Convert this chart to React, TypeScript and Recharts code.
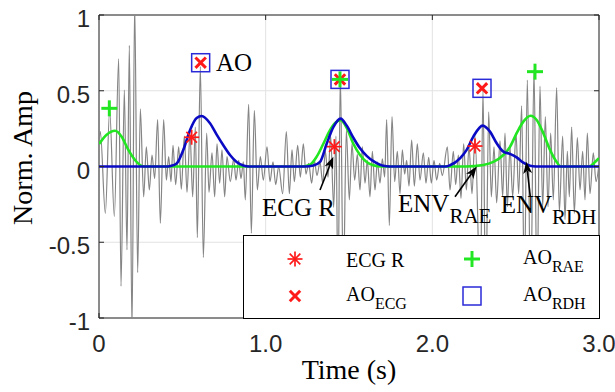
import React from 'react';
import {
  ComposedChart,
  Line,
  Scatter,
  XAxis,
  YAxis,
  CartesianGrid,
  ReferenceArea,
  ReferenceLine,
  ReferenceDot,
} from 'recharts';

// ---------- axis ticks ----------
const X_TICKS = [0, 1, 2, 3];
const X_TICK_LABELS = ['0', '1.0', '2.0', '3.0'];
const Y_TICKS = [1, 0.5, 0, -0.5, -1];
const Y_TICK_LABELS = ['1', '0.5', '0', '-0.5', '-1'];
const X_TITLE = 'Time (s)';
const Y_TITLE = 'Norm. Amp';

// ---------- grey raw signal: [time (s), normalized amplitude] ----------
const SIGNAL: [number, number][] = [
  [0.0, 0.15], [0.008, 0.23], [0.038, -0.31], [0.064, 0.37], [0.092, -0.33], [0.118, 0.71],
  [0.132, -0.79], [0.152, 0.505], [0.168, -0.55], [0.182, 0.8], [0.198, -1.08], [0.214, 1.08],
  [0.232, -0.7], [0.248, 0.38], [0.268, -0.2], [0.284, 0.13], [0.302, -0.155], [0.318, 0.076],
  [0.334, -0.08], [0.352, 0.31], [0.368, -0.375], [0.388, 0.31], [0.404, -0.09], [0.418, 0.065],
  [0.432, -0.1], [0.444, 0.14], [0.46, -0.12], [0.478, 0.13], [0.494, -0.15], [0.512, 0.2],
  [0.528, -0.17], [0.546, 0.22], [0.562, -0.2], [0.578, 0.26], [0.59, -0.47], [0.608, 0.66],
  [0.626, -0.6], [0.646, 0.22], [0.66, -0.17], [0.678, 0.09], [0.694, -0.2], [0.708, 0.15],
  [0.724, -0.11], [0.738, 0.11], [0.754, -0.2], [0.768, 0.065], [0.788, -0.1], [0.808, 0.05],
  [0.822, -0.09], [0.838, 0.04], [0.852, -0.08], [0.866, 0.03], [0.878, -0.22], [0.898, 0.41],
  [0.914, -0.44], [0.932, 0.37], [0.95, -0.155], [0.968, 0.065], [0.986, -0.09], [1.008, 0.13],
  [1.026, -0.1], [1.044, 0.03], [1.06, -0.12], [1.078, 0.0], [1.102, -0.18], [1.124, 0.23],
  [1.142, -0.18], [1.158, 0.11], [1.172, -0.1], [1.192, 0.14], [1.208, -0.07], [1.226, 0.15],
  [1.242, -0.05], [1.258, 0.02], [1.276, -0.11], [1.292, 0.04], [1.308, -0.06], [1.326, 0.03],
  [1.342, -0.11], [1.358, 0.1], [1.374, -0.07], [1.39, 0.2], [1.408, -0.27], [1.422, 0.2],
  [1.434, -0.85], [1.448, 0.6], [1.466, -0.8], [1.484, 0.24], [1.502, -0.22], [1.518, 0.15],
  [1.534, -0.09], [1.55, 0.08], [1.566, -0.155], [1.58, 0.13], [1.596, -0.11], [1.61, 0.04],
  [1.626, -0.2], [1.64, 0.1], [1.656, -0.155], [1.67, 0.03], [1.686, -0.11], [1.7, 0.05],
  [1.714, -0.07], [1.726, 0.31], [1.742, -0.39], [1.758, 0.33], [1.774, -0.1], [1.79, 0.1],
  [1.806, -0.18], [1.82, 0.11], [1.834, -0.05], [1.846, 0.04], [1.86, -0.13], [1.876, 0.175],
  [1.892, -0.13], [1.91, 0.15], [1.926, -0.09], [1.946, 0.09], [1.962, -0.11], [1.978, 0.06],
  [1.994, -0.11], [2.01, 0.04], [2.026, -0.09], [2.044, 0.02], [2.06, -0.06], [2.09, 0.13],
  [2.106, -0.155], [2.126, 0.1], [2.14, -0.12], [2.156, 0.075], [2.172, -0.21], [2.188, 0.15],
  [2.204, -0.155], [2.22, 0.13], [2.238, -0.18], [2.256, 0.2], [2.288, -0.85], [2.304, 0.505],
  [2.32, -0.95], [2.338, 0.36], [2.354, -0.2], [2.37, 0.13], [2.386, -0.24], [2.406, 0.17],
  [2.422, -0.2], [2.436, 0.22], [2.45, -0.265], [2.466, 0.13], [2.482, -0.2], [2.502, 0.22],
  [2.518, -0.18], [2.536, 0.4], [2.552, -0.8], [2.57, 0.57], [2.59, -0.9], [2.61, 0.64],
  [2.628, -0.85], [2.646, 0.53], [2.662, -0.27], [2.678, 0.33], [2.694, -0.265], [2.71, 0.22],
  [2.726, -0.22], [2.746, 0.52], [2.762, -0.3], [2.782, 0.2], [2.796, -0.35], [2.81, 0.1],
  [2.822, -0.2], [2.836, 0.26], [2.852, -0.31], [2.87, 0.19], [2.886, -0.155], [2.902, 0.1],
  [2.916, -0.22], [2.93, 0.22], [2.946, -0.18], [2.966, 0.09], [2.982, -0.1], [3.0, 0.02],
];

// ---------- envelopes ----------
const ENV_RDH: [number, number][] = [
  [0, 0], [0.4, 0], [0.43, 0.004], [0.466, 0.02], [0.506, 0.11], [0.546, 0.24], [0.586, 0.32],
  [0.616, 0.333], [0.666, 0.285], [0.706, 0.21], [0.746, 0.14], [0.786, 0.076], [0.826, 0.03],
  [0.866, 0.006], [0.9, 0], [1.24, 0], [1.286, 0.006], [1.326, 0.03], [1.366, 0.15], [1.406, 0.26],
  [1.45, 0.316], [1.486, 0.27], [1.526, 0.19], [1.566, 0.12], [1.606, 0.07], [1.646, 0.035],
  [1.686, 0.012], [1.726, 0.002], [1.76, 0], [2.08, 0], [2.106, 0.008], [2.166, 0.054],
  [2.206, 0.11], [2.246, 0.197], [2.302, 0.27], [2.346, 0.23], [2.386, 0.153], [2.426, 0.098],
  [2.466, 0.083], [2.506, 0.06], [2.546, 0.025], [2.586, 0.005], [2.62, 0], [3.0, 0],
];
const ENV_RAE: [number, number][] = [
  [0, 0.148], [0.046, 0.21], [0.096, 0.236], [0.136, 0.197], [0.176, 0.11], [0.216, 0.043],
  [0.246, 0.01], [0.27, 0], [1.22, 0], [1.266, 0.012], [1.306, 0.065], [1.346, 0.15],
  [1.386, 0.24], [1.42, 0.29], [1.45, 0.305], [1.486, 0.255], [1.526, 0.15], [1.566, 0.076],
  [1.606, 0.03], [1.646, 0.008], [1.69, 0], [2.2, 0], [2.306, 0.01], [2.366, 0.03],
  [2.426, 0.076], [2.466, 0.13], [2.506, 0.22], [2.546, 0.296], [2.59, 0.335], [2.626, 0.307],
  [2.666, 0.22], [2.706, 0.11], [2.746, 0.03], [2.77, 0], [2.94, 0], [2.986, 0.04], [3.0, 0.055],
];

// ---------- markers ----------
const ECG_R: [number, number][] = [[0.556, 0.193], [1.412, 0.131], [2.256, 0.135]];
const AO_ECG: [number, number][] = [[0.61, 0.685], [1.446, 0.575], [2.298, 0.516]];
const AO_RAE: [number, number][] = [[0.062, 0.384], [1.446, 0.575], [2.616, 0.626]];
const AO_RDH: [number, number][] = [[0.61, 0.685], [1.446, 0.575], [2.298, 0.516]];

const toRows = (a: [number, number][]) => a.map(([t, v]) => ({ t, v }));

// ---------- styles ----------
const W = 615;
const H = 392;
const PLOT_W = 500;
const PLOT_H = 303;
const SERIF = '"Liberation Serif", "Times New Roman", serif';
const SANS = '"Liberation Sans", Arial, sans-serif';
const RED = '#ff1a1a';
const GREEN = '#22e622';
const BLUE = '#0a0ac4';
const SQ_BLUE = '#2a2ad8';
const AXIS = '#262626';

const starShape = (p: any) => {
  const { cx, cy } = p;
  const r = 7.5;
  const d = 5.3;
  return (
    <g stroke={RED} strokeWidth={1.7}>
      <line x1={cx - r} y1={cy} x2={cx + r} y2={cy} />
      <line x1={cx} y1={cy - r} x2={cx} y2={cy + r} />
      <line x1={cx - d} y1={cy - d} x2={cx + d} y2={cy + d} />
      <line x1={cx - d} y1={cy + d} x2={cx + d} y2={cy - d} />
    </g>
  );
};
const crossShape = (p: any) => {
  const { cx, cy } = p;
  const d = 5.2;
  return (
    <g stroke={RED} strokeWidth={3}>
      <line x1={cx - d} y1={cy - d} x2={cx + d} y2={cy + d} />
      <line x1={cx - d} y1={cy + d} x2={cx + d} y2={cy - d} />
    </g>
  );
};
const plusShape = (p: any) => {
  const { cx, cy } = p;
  const d = 8;
  return (
    <g stroke={GREEN} strokeWidth={3}>
      <line x1={cx - d} y1={cy} x2={cx + d} y2={cy} />
      <line x1={cx} y1={cy - d} x2={cx} y2={cy + d} />
    </g>
  );
};
const squareShape = (p: any) => {
  const { cx, cy } = p;
  const s = 9;
  return <rect x={cx - s} y={cy - s} width={2 * s} height={2 * s} fill="none" stroke={SQ_BLUE} strokeWidth={1.5} />;
};

const arrowShape = (p: any) => {
  const { x1, y1, x2, y2 } = p;
  const ang = Math.atan2(y2 - y1, x2 - x1);
  const L = 12;
  const Wd = 4.5;
  const bx = x2 - L * Math.cos(ang);
  const by = y2 - L * Math.sin(ang);
  const nx = x2 - (L - 3) * Math.cos(ang);
  const ny = y2 - (L - 3) * Math.sin(ang);
  const px = -Math.sin(ang) * Wd;
  const py = Math.cos(ang) * Wd;
  return (
    <g>
      <line x1={x1} y1={y1} x2={nx} y2={ny} stroke="#000" strokeWidth={1.6} />
      <polygon points={`${x2},${y2} ${bx + px},${by + py} ${nx},${ny} ${bx - px},${by - py}`} fill="#000" />
    </g>
  );
};

const textShape = (main: string, sub?: string) => (p: any) => (
  <text x={p.cx} y={p.cy} fontFamily={SERIF} fontSize={25} fill="#000">
    {main}
    {sub ? (
      <tspan fontSize={21} dy={11}>
        {sub}
      </tspan>
    ) : null}
  </text>
);

const xTitleShape = (p: any) => (
  <text x={p.cx} y={p.cy} textAnchor="middle" fontFamily={SERIF} fontSize={28} fill="#000">
    {X_TITLE}
  </text>
);
const yTitleShape = (p: any) => (
  <text
    x={p.cx}
    y={p.cy}
    transform={`rotate(-90 ${p.cx} ${p.cy})`}
    textAnchor="middle"
    fontFamily={SERIF}
    fontSize={28}
    fill="#000"
  >
    {Y_TITLE}
  </text>
);

const YTick = (p: any) => {
  const { x, y, payload } = p;
  const i = Y_TICKS.indexOf(payload.value);
  return (
    <g>
      <line x1={x} y1={y} x2={x + 5} y2={y} stroke={AXIS} />
      <line x1={x + PLOT_W - 5} y1={y} x2={x + PLOT_W} y2={y} stroke={AXIS} />
      <text x={x - 9} y={y + 12} textAnchor="end" fontFamily={SANS} fontSize={24} fill={AXIS}>
        {Y_TICK_LABELS[i]}
      </text>
    </g>
  );
};

const XTick = (p: any) => {
  const { x, y, payload } = p;
  const i = X_TICKS.indexOf(payload.value);
  return (
    <g>
      <line x1={x} y1={y} x2={x} y2={y - 5} stroke={AXIS} />
      <line x1={x} y1={y - PLOT_H} x2={x} y2={y - PLOT_H + 5} stroke={AXIS} />
      <text x={x} y={y + 34} textAnchor="middle" fontFamily={SANS} fontSize={24} fill={AXIS}>
        {X_TICK_LABELS[i]}
      </text>
    </g>
  );
};

const LegendBox = () => (
  <div
    style={{
      position: 'absolute',
      left: 243,
      top: 235,
      width: 357,
      height: 84,
      background: '#fff',
      border: '1px solid #000',
      boxSizing: 'border-box',
    }}
  >
    <svg width={355} height={82} style={{ display: 'block' }}>
      {starShape({ cx: 51, cy: 23 })}
      <text x={102} y={31} fontFamily={SERIF} fontSize={20} fill="#000">
        ECG R
      </text>
      {plusShape({ cx: 228, cy: 23 })}
      <text x={279} y={28} fontFamily={SERIF} fontSize={20} fill="#000">
        AO
        <tspan fontSize={16} dy={8}>
          RAE
        </tspan>
      </text>
      {crossShape({ cx: 51, cy: 60 })}
      <text x={102} y={65} fontFamily={SERIF} fontSize={20} fill="#000">
        AO
        <tspan fontSize={16} dy={8}>
          ECG
        </tspan>
      </text>
      {squareShape({ cx: 228, cy: 60 })}
      <text x={279} y={65} fontFamily={SERIF} fontSize={20} fill="#000">
        AO
        <tspan fontSize={16} dy={8}>
          RDH
        </tspan>
      </text>
    </svg>
  </div>
);

export default function App() {
  return (
    <div style={{ position: 'absolute', left: 0, top: 0, width: W, height: H, background: '#fff' }}>
      <ComposedChart width={W} height={H} margin={{ top: 15, right: 16, bottom: 44, left: 39 }}>
        <CartesianGrid stroke="#e2e2e2" strokeWidth={1} />
        <XAxis
          dataKey="t"
          type="number"
          domain={[0, 3]}
          ticks={X_TICKS}
          allowDataOverflow
          interval={0}
          height={30}
          axisLine={false}
          tickLine={false}
          tickSize={0}
          tickMargin={0}
          tick={<XTick />}
        />
        <YAxis
          type="number"
          domain={[-1, 1]}
          ticks={Y_TICKS}
          allowDataOverflow
          interval={0}
          width={60}
          axisLine={false}
          tickLine={false}
          tickSize={0}
          tickMargin={0}
          tick={<YTick />}
        />
        <Line
          data={toRows(SIGNAL)}
          dataKey="v"
          type="monotone"
          stroke="#858585"
          strokeWidth={1.2}
          dot={false}
          activeDot={false}
          isAnimationActive={false}
        />
        <Line
          data={toRows(ENV_RAE)}
          dataKey="v"
          type="monotone"
          stroke={GREEN}
          strokeWidth={2.6}
          dot={false}
          activeDot={false}
          isAnimationActive={false}
        />
        <Line
          data={toRows(ENV_RDH)}
          dataKey="v"
          type="monotone"
          stroke={BLUE}
          strokeWidth={2.6}
          dot={false}
          activeDot={false}
          isAnimationActive={false}
        />
        <Scatter data={toRows(ECG_R)} dataKey="v" shape={starShape} isAnimationActive={false} />
        <Scatter data={toRows(AO_ECG)} dataKey="v" shape={crossShape} isAnimationActive={false} />
        <Scatter data={toRows(AO_RAE)} dataKey="v" shape={plusShape} isAnimationActive={false} />
        <Scatter data={toRows(AO_RDH)} dataKey="v" shape={squareShape} isAnimationActive={false} />
        <ReferenceDot x={0.702} y={0.63} shape={textShape('AO')} />
        <ReferenceDot x={0.978} y={-0.327} shape={textShape('ECG R')} />
        <ReferenceDot x={1.794} y={-0.3} shape={textShape('ENV', 'RAE')} />
        <ReferenceDot x={2.41} y={-0.307} shape={textShape('ENV', 'RDH')} />
        <ReferenceDot x={1.5} y={-1.405} ifOverflow="visible" shape={xTitleShape} />
        <ReferenceDot x={-0.4} y={0.056} ifOverflow="visible" shape={yTitleShape} />
        <ReferenceLine segment={[{ x: 1.326, y: -0.155 }, { x: 1.406, y: 0.065 }]} shape={arrowShape} />
        <ReferenceLine segment={[{ x: 2.136, y: -0.2 }, { x: 2.266, y: 0.0 }]} shape={arrowShape} />
        <ReferenceLine segment={[{ x: 2.588, y: -0.2 }, { x: 2.564, y: 0.032 }]} shape={arrowShape} />
        <ReferenceArea x1={0} x2={3} y1={-1} y2={1} fill="none" stroke={AXIS} strokeWidth={1} />
      </ComposedChart>
      <LegendBox />
    </div>
  );
}
